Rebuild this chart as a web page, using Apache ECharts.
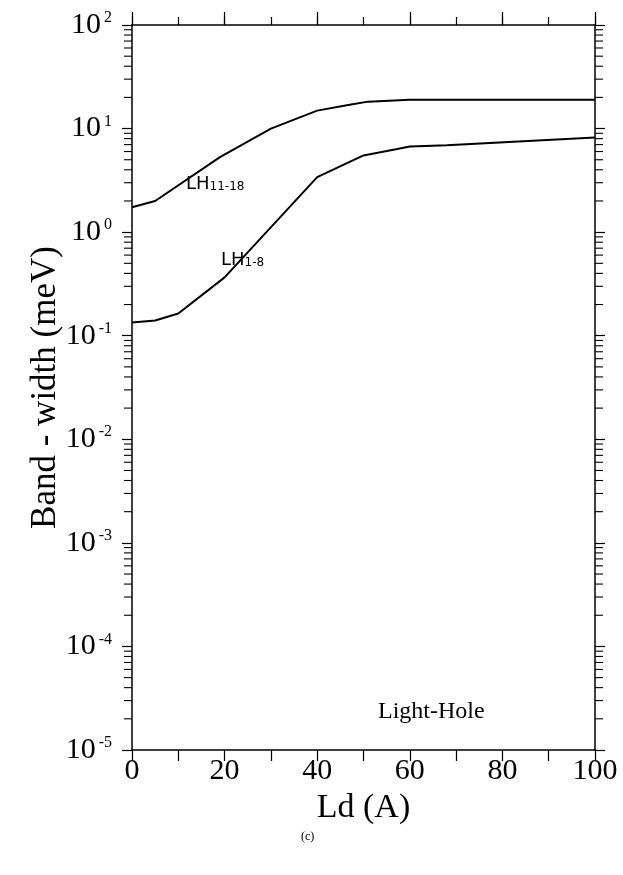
<!DOCTYPE html>
<html>
<head>
<meta charset="utf-8">
<script src="https://cdn.jsdelivr.net/npm/echarts@6/dist/echarts.min.js"></script>
<style>
  html, body { margin: 0; padding: 0; background: #fff; }
  #chart { width: 623px; height: 875px; }
</style>
</head>
<body>
<div id="chart"></div>
<script>
// data (Ld in A, band-width in meV)
const upperLd = [0, 5, 19, 30, 40, 47, 51, 60, 100];
const upperWidth = [1.74, 2.0, 5.3, 10, 14.9, 17, 18.2, 19, 19];
const lowerLd = [0, 5, 10, 20, 40, 50, 57, 60, 68, 100];
const lowerWidth = [0.134, 0.14, 0.164, 0.366, 3.4, 5.5, 6.3, 6.7, 6.9, 8.2];

// log axis: decades and the in-between tick multipliers
const decades = [-5, -4, -3, -2, -1, 0, 1];
const minorSteps = [2, 3, 4, 5, 6, 7, 8, 9];
const minorTickValues = [];
for (let d of decades) {
  for (let m of minorSteps) minorTickValues.push(m * Math.pow(10, d));
}

const serif = "'Liberation Serif', 'DejaVu Serif', serif";
const hand = "'DejaVu Sans', sans-serif";

let myChart = echarts.init(document.getElementById("chart"));

const yLog = {
  type: "log",
  logBase: 10,
  min: 1e-5,
  max: 100,
  splitNumber: 7,
  splitLine: { show: false },
  axisLine: { show: true, onZero: false, lineStyle: { color: "#000", width: 1.5 } },
  axisTick: { show: true, inside: false, length: 10, lineStyle: { color: "#000", width: 1.2 } }
};

myChart.setOption({
  animation: false,
  backgroundColor: "#fff",
  grid: { left: 132, right: 28, top: 25, bottom: 125 },
  xAxis: [
    {
      type: "value",
      min: 0,
      max: 100,
      interval: 10,
      position: "bottom",
      name: "Ld (A)",
      nameLocation: "middle",
      nameGap: 38,
      nameTextStyle: { fontFamily: serif, fontSize: 34, color: "#000" },
      splitLine: { show: false },
      axisLine: { onZero: false, lineStyle: { color: "#000", width: 1.5 } },
      axisTick: { length: 11, lineStyle: { color: "#000", width: 1.2 } },
      axisLabel: {
        margin: 6,
        fontFamily: serif,
        fontSize: 30,
        color: "#000",
        formatter: v => (v % 20 === 0 ? String(v) : "")
      }
    },
    {
      type: "value",
      min: 0,
      max: 100,
      interval: 20,
      position: "top",
      splitLine: { show: false },
      axisLine: { onZero: false, lineStyle: { color: "#000", width: 1.5 } },
      axisTick: { length: 13, lineStyle: { color: "#000", width: 1.2 } },
      axisLabel: { show: false }
    },
    {
      type: "value",
      min: 0,
      max: 100,
      interval: 10,
      position: "top",
      splitLine: { show: false },
      axisLine: { show: false, onZero: false },
      axisTick: { length: 8, lineStyle: { color: "#000", width: 1.2 } },
      axisLabel: { show: false }
    }
  ],
  yAxis: [
    Object.assign({}, yLog, {
      position: "left",
      name: "Band - width (meV)",
      nameLocation: "middle",
      nameGap: 69,
      nameMoveOverlap: false,
      nameTextStyle: { fontFamily: serif, fontSize: 35, color: "#000" },
      axisLabel: {
        margin: 20,
        formatter: v => "{b|10}{s|" + Math.round(Math.log10(v)) + "}",
        rich: {
          b: { fontFamily: serif, fontSize: 30, color: "#000" },
          s: { fontFamily: serif, fontSize: 16, color: "#000", verticalAlign: "top", padding: [0, 0, 0, 3] }
        }
      }
    }),
    Object.assign({}, yLog, {
      position: "right",
      axisLabel: { show: false }
    })
  ],
  graphic: [
    {
      type: "text",
      left: 186,
      top: 175,
      style: {
        text: "{a|LH}{b|11-18}",
        rich: {
          a: { fontFamily: hand, fontSize: 18, fill: "#000" },
          b: { fontFamily: hand, fontSize: 12, fill: "#000", verticalAlign: "bottom" }
        }
      }
    },
    {
      type: "text",
      left: 221,
      top: 251,
      style: {
        text: "{a|LH}{b|1-8}",
        rich: {
          a: { fontFamily: hand, fontSize: 18, fill: "#000" },
          b: { fontFamily: hand, fontSize: 12, fill: "#000", verticalAlign: "bottom" }
        }
      }
    },
    {
      type: "text",
      left: 378,
      top: 700,
      style: { text: "Light-Hole", fontFamily: serif, fontSize: 24, fill: "#000" }
    },
    {
      type: "text",
      left: 301,
      top: 831,
      style: { text: "(c)", fontFamily: serif, fontSize: 12, fill: "#000" }
    }
  ],
  series: [
    {
      name: "LH11-18",
      type: "line",
      xAxisIndex: 0,
      yAxisIndex: 0,
      data: upperLd.map((x, i) => [x, upperWidth[i]]),
      showSymbol: false,
      lineStyle: { color: "#000", width: 2 }
    },
    {
      name: "LH1-8",
      type: "line",
      xAxisIndex: 0,
      yAxisIndex: 0,
      data: lowerLd.map((x, i) => [x, lowerWidth[i]]),
      showSymbol: false,
      lineStyle: { color: "#000", width: 2 }
    },
    {
      // minor ticks of the log axes, drawn outside on both sides
      type: "custom",
      xAxisIndex: 0,
      yAxisIndex: 0,
      silent: true,
      clip: false,
      data: minorTickValues.map(v => [0, v]),
      renderItem: function (params, api) {
        let v = api.value(1);
        let pL = api.coord([0, v]);
        let pR = api.coord([100, v]);
        let st = { stroke: "#000", lineWidth: 1.1 };
        return {
          type: "group",
          children: [
            { type: "line", shape: { x1: pL[0] - 8, y1: pL[1], x2: pL[0], y2: pL[1] }, style: st },
            { type: "line", shape: { x1: pR[0], y1: pR[1], x2: pR[0] + 8, y2: pR[1] }, style: st }
          ]
        };
      }
    }
  ]
});
</script>
</body>
</html>
